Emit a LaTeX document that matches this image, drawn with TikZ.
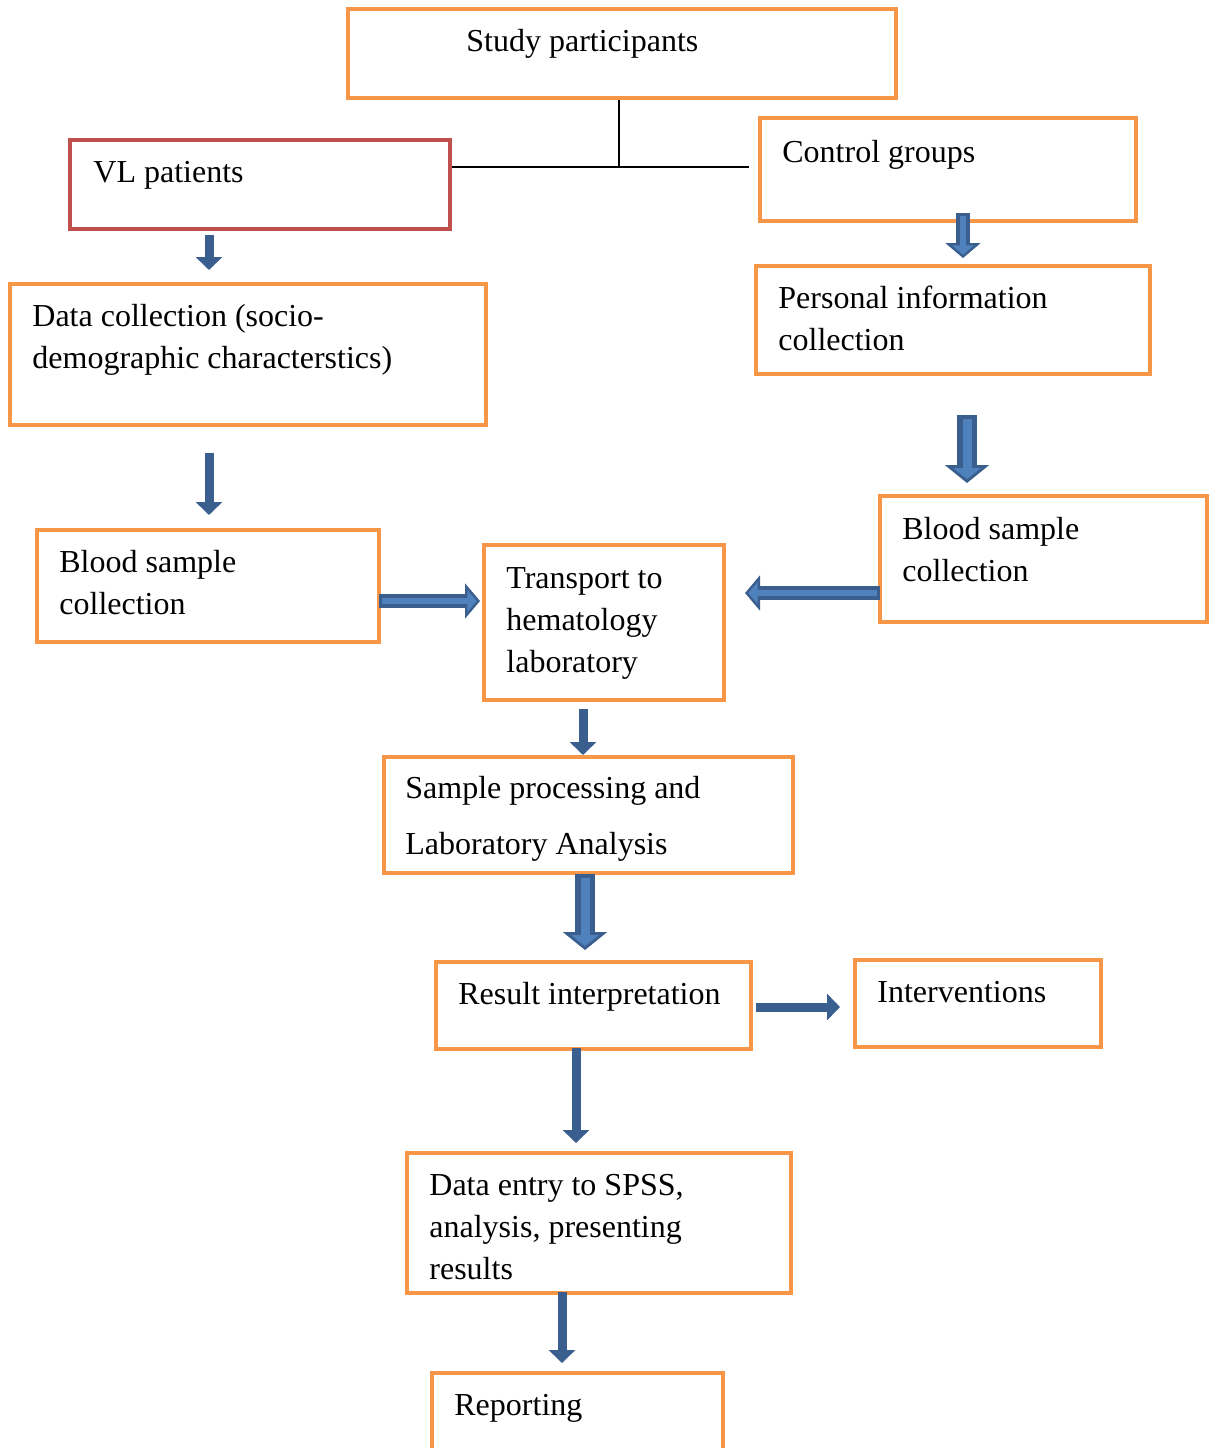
\documentclass[tikz,border=0pt]{standalone}
\usepackage{fontspec}
\setmainfont{Liberation Serif}
\usetikzlibrary{arrows.meta,fit}

\definecolor{boxorange}{HTML}{F79646}
\definecolor{boxred}{HTML}{C0504D}
\definecolor{arrowdark}{HTML}{3A5F8E}
\definecolor{arrowlight}{HTML}{4F81BD}

\tikzset{
  box/.style={draw=boxorange, line width=2pt, inner sep=0pt},
  txt/.style={anchor=north west, inner sep=0pt, align=left},
  thinarr/.style={draw=arrowdark, line width=4.5pt, -{Triangle[width=13pt,length=6.5pt]}},
  midarr/.style={draw=arrowdark, line width=7pt,
    -{Triangle[width=17.5pt,length=7.5pt,fill=arrowlight,line width=1.2pt]},
    postaction={draw=arrowlight, line width=2.8pt, -, shorten >=6pt, shorten <=1.5pt}},
  fatarr/.style={draw=arrowdark, line width=10pt,
    -{Triangle[width=22pt,length=9pt,fill=arrowlight,line width=1.4pt]},
    postaction={draw=arrowlight, line width=4.5pt, -, shorten >=7pt, shorten <=1.8pt}}
}

\begin{document}
\begin{tikzpicture}[x=0.5pt, y=-0.5pt, font=\fontsize{16}{21}\selectfont]
  \useasboundingbox (0,0) rectangle (1209,1448);
  \clip (0,0) rectangle (1209,1448);
  % boxes, given by their corners in pixels of the page
  \foreach \name/\xa/\ya/\xb/\yb in {part/348/9/896/98, ctrl/760/118/1136/221,
      data/10/284/486/425, pers/756/266/1150/374, blood1/37/530/379/642,
      blood2/880/496/1207/622, trans/484/545/724/700, proc/384/757/793/873,
      result/436/962/751/1049, interv/855/960/1101/1047, entry/407/1153/791/1293,
      report/432/1373/723/1470}{
    \node[box, fit={(\xa,\ya) (\xb,\yb)}] (\name) {};
  }
  \node[box, draw=boxred, fit={(70,140) (450,229)}] (vl) {};

  % texts, set from the top left corner of each box
  \node[txt] (part-t) at ([shift={(120,15)}]part.north west) {\strut Study participants};
  \node[txt] (vl-t) at ([shift={(25,15)}]vl.north west) {\strut VL patients};
  \node[txt] (ctrl-t) at ([shift={(24,17)}]ctrl.north west) {\strut Control groups};
  \node[txt] (data-t) at ([shift={(24,15)}]data.north west)
    {\strut Data collection (socio-\\demographic characterstics)};
  \node[txt] (pers-t) at ([shift={(24,15)}]pers.north west)
    {\strut Personal information\\collection};
  \node[txt] (blood1-t) at ([shift={(24,15)}]blood1.north west)
    {\strut Blood sample\\collection};
  \node[txt] (blood2-t) at ([shift={(24,16)}]blood2.north west)
    {\strut Blood sample\\collection};
  \node[txt] (trans-t) at ([shift={(24,16)}]trans.north west)
    {\strut Transport to\\hematology\\laboratory};
  \node[txt] (proc-t) at ([shift={(23,14)}]proc.north west)
    {\strut Sample processing and\\[7pt]Laboratory Analysis};
  \node[txt] (result-t) at ([shift={(24,15)}]result.north west) {\strut Result interpretation};
  \node[txt] (interv-t) at ([shift={(24,15)}]interv.north west) {\strut Interventions};
  \node[txt] (entry-t) at ([shift={(24,15)}]entry.north west)
    {\strut Data entry to SPSS,\\analysis, presenting\\results};
  \node[txt] (report-t) at ([shift={(24,15)}]report.north west) {\strut Reporting};

  % split of the participants into the two groups
  \coordinate (fork) at ([shift={(-3,67)}]part.south);
  \draw[line width=0.8pt] (part.south -| fork) -- (fork);
  \draw[line width=0.8pt] (fork -| vl.east) -- ([xshift=-4.5pt]fork -| ctrl.west);

  % block arrows
  \draw[thinarr] ([shift={(-51,4)}]vl.south) -- ([shift={(-39,-12)}]data.north);
  \draw[midarr] ([shift={(15,-10)}]ctrl.south) -- ([shift={(10,-6)}]pers.north);
  \draw[fatarr] ([shift={(14,39)}]pers.south) -- ([shift={(-76.5,-11)}]blood2.north);
  \draw[thinarr] ([shift={(-39,26)}]data.south) -- ([shift={(1,-13)}]blood1.north);
  \draw[midarr] ([shift={(-2,15)}]blood1.east) -- ([shift={(-2,-21.5)}]trans.west);
  \draw[midarr] ([shift={(2,34)}]blood2.west) -- ([shift={(19,-29.5)}]trans.east);
  \draw[thinarr] ([shift={(-21,7)}]trans.south) -- ([shift={(-5.5,0)}]proc.north);
  \draw[fatarr] ([shift={(-3.5,-1)}]proc.south) -- ([shift={(-8.5,-10)}]result.north);
  \draw[thinarr] ([shift={(3,1.5)}]result.east) -- ([shift={(-13,3.5)}]interv.west);
  \draw[thinarr] ([shift={(-17.5,-3)}]result.south) -- ([shift={(-23,-8)}]entry.north);
  \draw[thinarr] ([shift={(-37,-3)}]entry.south) -- ([shift={(-15.5,-8)}]report.north);
\end{tikzpicture}
\end{document}
